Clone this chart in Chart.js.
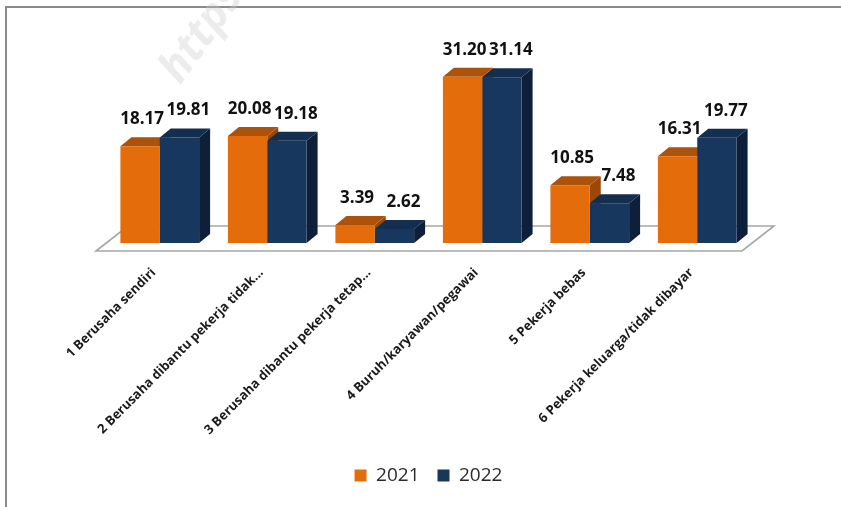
<!DOCTYPE html>
<html>
<head>
<meta charset="utf-8">
<script src="https://cdn.jsdelivr.net/npm/chart.js@4.4.1/dist/chart.umd.min.js"></script>
<style>
  html, body { margin: 0; padding: 0; background: #fff; }
  #wrap { width: 841px; height: 507px; position: relative; }
</style>
</head>
<body>
<div id="wrap"><canvas id="jobChart"></canvas></div>
<script>
// Data
const categories = [
  "1 Berusaha sendiri",
  "2 Berusaha dibantu pekerja tidak...",
  "3 Berusaha dibantu pekerja tetap...",
  "4 Buruh/karyawan/pegawai",
  "5 Pekerja bebas",
  "6 Pekerja keluarga/tidak dibayar"
];
const seriesNames = ["2021", "2022"];
const values2021 = [18.17, 20.08, 3.39, 31.20, 10.85, 16.31];
const values2022 = [19.81, 19.18, 2.62, 31.14, 7.48, 19.77];

// depth of the fake 3D boxes
const DX = 11, DY = -9;

// outer grey frame of the picture
const framePlugin = {
  id: "frame",
  beforeDraw(chart) {
    const ctx = chart.ctx;
    ctx.save();
    ctx.strokeStyle = "#8a8a8a";
    ctx.lineWidth = 2;
    ctx.beginPath();
    ctx.moveTo(6, 520);
    ctx.lineTo(6, 7);
    ctx.lineTo(860, 7);
    ctx.stroke();
    // faint watermark
    ctx.translate(170, 78);
    ctx.rotate(-0.95);
    ctx.font = "italic bold 44px 'Open Sans'";
    ctx.fillStyle = "rgba(200,200,200,0.35)";
    ctx.fillText("https://", 0, 0);
    ctx.restore();
  }
};

// floor + side/top faces of the bars
const box3dPlugin = {
  id: "box3d",
  beforeDatasetsDraw(chart) {
    const ctx = chart.ctx;
    const area = chart.chartArea;
    const base = chart.scales.y.getPixelForValue(0);
    ctx.save();

    // floor
    const fy = base + 8;
    const fl = area.left - 10, fr = area.right - 9;
    ctx.beginPath();
    ctx.moveTo(fl, fy);
    ctx.lineTo(fl + 32, fy - 25);
    ctx.lineTo(fr + 32, fy - 25);
    ctx.lineTo(fr, fy);
    ctx.closePath();
    ctx.fillStyle = "#ffffff";
    ctx.fill();
    ctx.strokeStyle = "#a6a6a6";
    ctx.lineWidth = 1.6;
    ctx.stroke();

    chart.data.datasets.forEach((ds, i) => {
      const meta = chart.getDatasetMeta(i);
      meta.data.forEach((bar) => {
        const p = bar.getProps(["x", "y", "base", "width"], true);
        const l = p.x - p.width / 2, r = p.x + p.width / 2;
        // side
        ctx.fillStyle = ds.sideColor;
        ctx.beginPath();
        ctx.moveTo(r, p.y);
        ctx.lineTo(r + DX, p.y + DY);
        ctx.lineTo(r + DX, p.base + DY);
        ctx.lineTo(r, p.base);
        ctx.closePath();
        ctx.fill();
        // top
        ctx.fillStyle = ds.topColor;
        ctx.beginPath();
        ctx.moveTo(l, p.y);
        ctx.lineTo(l + DX, p.y + DY);
        ctx.lineTo(r + DX, p.y + DY);
        ctx.lineTo(r, p.y);
        ctx.closePath();
        ctx.fill();
      });
    });
    ctx.restore();
  },
  afterDatasetsDraw(chart) {
    const ctx = chart.ctx;
    ctx.save();
    ctx.font = "bold 17px 'Open Sans'";
    ctx.fillStyle = "#111111";
    ctx.textAlign = "center";
    ctx.textBaseline = "middle";
    chart.data.datasets.forEach((ds, i) => {
      const meta = chart.getDatasetMeta(i);
      meta.data.forEach((bar, j) => {
        const p = bar.getProps(["x", "y"], true);
        ctx.fillText(ds.data[j].toFixed(2), p.x + ds.labelShift, p.y - 27);
      });
    });
    ctx.restore();
  }
};

new Chart(document.getElementById("jobChart"), {
  type: "bar",
  data: {
    labels: categories,
    datasets: [
      {
        label: seriesNames[0],
        data: values2021,
        backgroundColor: "#E46C0A",
        topColor: "#AD520B",
        sideColor: "#9A4808",
        labelShift: 2,
        barPercentage: 1,
        categoryPercentage: 0.732
      },
      {
        label: seriesNames[1],
        data: values2022,
        backgroundColor: "#17375E",
        topColor: "#132E4F",
        sideColor: "#0E2039",
        labelShift: 9,
        barPercentage: 1,
        categoryPercentage: 0.732
      }
    ]
  },
  options: {
    responsive: true,
    maintainAspectRatio: false,
    animation: false,
    layout: {
      padding: { top: 30, left: 106, right: 90, bottom: 12 }
    },
    plugins: {
      tooltip: { enabled: false },
      legend: {
        position: "bottom",
        labels: {
          boxWidth: 12,
          boxHeight: 12,
          padding: 18,
          color: "#2b2b2b",
          font: { family: "'Open Sans'", size: 19 }
        }
      }
    },
    scales: {
      x: {
        grid: { display: false, drawTicks: false },
        border: { display: false },
        afterFit(scale) {
          scale.height -= 12;
        },
        ticks: {
          minRotation: 45,
          maxRotation: 45,
          autoSkip: false,
          padding: 22,
          labelOffset: -6,
          color: "#1a1a1a",
          font: { family: "'Open Sans'", size: 13, weight: "bold" }
        }
      },
      y: {
        display: false,
        min: 0,
        max: 40
      }
    }
  },
  plugins: [framePlugin, box3dPlugin]
});
</script>
</body>
</html>
